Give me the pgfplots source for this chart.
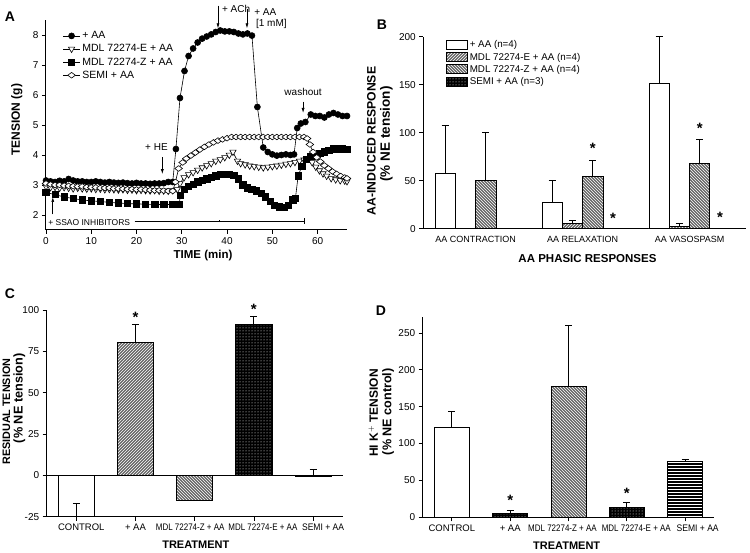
\documentclass[border=0pt]{standalone}
\usepackage{fontspec}
\setmainfont{Liberation Sans}
\usepackage{pgfplots}
\pgfplotsset{compat=1.18}
\usetikzlibrary{patterns,arrows.meta}

\pgfplotsset{
  panel/.style={
    scale only axis,
    axis lines=left,
    axis line style={-, line width=1pt},
    tick align=outside,
    major tick length=4pt,
    tick style={black, line width=0.8pt},
    /pgf/number format/assume math mode=true,
    yticklabel style={font=\fontsize{10}{11}\selectfont},
    clip=false,
  },
  errs/.style={error bars/.cd, y dir=plus, y explicit,
    error bar style={line width=1pt, black},
    error mark options={rotate=90, mark size=3.5pt, line width=1pt, black}},
  bx/.style={ybar, bar shift=0pt, draw=black, line width=0.9pt},
  boxlegend/.style={legend image code/.code={\draw[##1] (0pt,-4.5pt) rectangle (21pt,4.5pt);}},
  hatchE/.style={fill=black!60, postaction={pattern=north east lines, pattern color=white}},
  hatchZ/.style={fill=black!60, postaction={pattern=north west lines, pattern color=white}},
  dotsB/.style={fill=black, postaction={pattern=dots, pattern color=white}},
  horizB/.style={fill=black, postaction={pattern=horizontal lines, pattern color=white}},
}
\newcommand{\sig}{\fontsize{15}{15}\bfseries *}
\newcommand{\nar}[1]{\scalebox{0.84}[1]{#1}}

\begin{document}
\begin{tikzpicture}[x=1pt,y=1pt]
\useasboundingbox (0,0) rectangle (750,553);

% ---------------- A ----------------
\begin{axis}[panel, anchor=south west, at={(46pt,323pt)}, width=301pt, height=210pt,
  xmin=0, xmax=66.5, ymin=1.5, ymax=8.5,
  xtick={0,10,...,60}, ytick={2,3,...,8},
  xticklabel style={font=\fontsize{10}{11}\selectfont},
  legend style={draw=none, fill=none, at={(0.045,0.965)}, anchor=north west,
    font=\fontsize{10.5}{12}\selectfont, row sep=0.3pt, cells={anchor=west}},
  every axis plot/.append style={black, line width=0.6pt, mark options={solid, line width=0.6pt}},
]
\addplot[mark=*, mark size=3pt] coordinates {
(0,3.15) (1,3.12) (2,3.1) (3,3.14) (4,3.12) (5,3.2) (6,3.15) (7,3.12) (8,3.12) (9,3.1) (10,3.1) (11,3.12) (12,3.1) (13,3.08) (14,3.1) (15,3.08) (16,3.07) (17,3.08) (18,3.06) (19,3.05) (20,3.07) (21,3.05) (22,3.05) (23,3.04) (24,3.05) (25,3.05) (26,3.06) (27,3.1) (28,3.1) (28.7,4.2) (29.6,5.9) (30.6,6.8) (31.5,7.3) (32.5,7.55) (33.5,7.75) (34.5,7.88) (35.5,7.95) (36.5,8.02) (37.5,8.1) (38.5,8.15) (39.5,8.12) (40.5,8.12) (41.5,8.1) (42.5,8.05) (43.5,8.02) (44.5,8.05) (45.5,7.98) (46.7,5.6) (48,4.25) (49,4.1) (50,4.02) (51,3.98) (52,4.0) (53,4.02) (54,4.0) (54.8,4.02) (55.5,4.9) (56.3,5.05) (57.3,5.1) (58.5,5.35) (59.5,5.3) (60.5,5.3) (61.5,5.25) (62.5,5.35) (63.5,5.4) (64.5,5.35) (65.5,5.3) (66.5,5.3)
};
\addlegendentry{+ AA}
\addplot[mark=triangle*, mark size=3.6pt, mark options={rotate=180, fill=white}] coordinates {
(0,2.95) (1,2.92) (2,2.93) (3,2.9) (4,2.92) (5,2.9) (6,2.88) (7,2.9) (8,2.88) (9,2.87) (10,2.88) (11,2.86) (12,2.87) (13,2.85) (14,2.86) (15,2.85) (16,2.84) (17,2.85) (18,2.83) (19,2.84) (20,2.82) (21,2.83) (22,2.82) (23,2.81) (24,2.82) (25,2.8) (26,2.81) (27,2.8) (28,2.82) (29,2.85) (29.6,3.05) (30.5,3.25) (31.5,3.35) (32.5,3.42) (33.5,3.5) (34.5,3.58) (35.5,3.65) (36.5,3.72) (37.5,3.8) (38.5,3.85) (39.5,3.92) (40.5,4.0) (41.3,4.1) (42.3,3.8) (43,3.72) (44,3.68) (45,3.64) (46,3.62) (47,3.6) (48,3.58) (49,3.6) (50,3.62) (51,3.64) (52,3.67) (53,3.7) (54,3.72) (55,3.76) (56,3.8) (57,3.84) (58,3.88) (58.8,3.75) (59.6,3.6) (60.4,3.48) (61.2,3.38) (62,3.3) (63,3.22) (64,3.18) (65,3.15) (66,3.14) (66.5,3.12)
};
\addlegendentry{MDL 72274-E + AA}
\addplot[mark=square*, mark size=3.2pt] coordinates {
(0,2.75) (2,2.68) (4,2.6) (6,2.55) (8,2.5) (10,2.47) (12,2.45) (14,2.42) (16,2.4) (18,2.38) (20,2.37) (22,2.36) (24,2.35) (26,2.35) (28,2.35) (29.4,2.35) (29.7,2.65) (30.5,2.85) (31.5,2.95) (32.5,3.03) (33.5,3.1) (34.5,3.15) (35.5,3.2) (36.5,3.25) (37.5,3.3) (38.5,3.35) (39.5,3.36) (40.5,3.35) (41.5,3.32) (42.5,3.2) (43.5,3.0) (44.5,2.9) (45.5,2.85) (46.5,2.8) (47.5,2.72) (48.5,2.6) (49.5,2.45) (50.5,2.33) (51.5,2.27) (52.5,2.25) (53.5,2.33) (54.5,2.5) (55.1,2.55) (55.7,3.3) (56.5,3.62) (57.5,3.85) (58.5,3.95) (59.5,4.0) (60.5,4.05) (61.5,4.1) (62.5,4.15) (63.5,4.2) (64.5,4.2) (65.5,4.2) (66.5,4.18)
};
\addlegendentry{MDL 72274-Z + AA}
\addplot[mark=diamond*, mark size=3.8pt, mark options={rotate=90, fill=white}] coordinates {
(0,3.05) (1,3.02) (2,3.0) (3,3.0) (4,2.98) (5,2.97) (6,2.96) (7,2.95) (8,2.95) (9,2.93) (10,2.92) (11,2.92) (12,2.9) (13,2.9) (14,2.9) (15,2.88) (16,2.88) (17,2.87) (18,2.86) (19,2.86) (20,2.85) (21,2.85) (22,2.84) (23,2.83) (24,2.82) (25,2.82) (26,2.81) (27,2.8) (28,2.8) (28.6,3.1) (29.3,3.55) (30.2,3.75) (31,3.88) (32,3.98) (33,4.08) (34,4.18) (35,4.27) (36,4.35) (37,4.42) (38,4.48) (39,4.52) (40,4.56) (41,4.6) (42,4.6) (43,4.6) (44,4.6) (45,4.6) (46,4.6) (47,4.6) (48,4.6) (49,4.6) (50,4.6) (51,4.6) (52,4.6) (53,4.6) (54,4.6) (55,4.6) (56,4.6) (57,4.6) (57.7,4.55) (58.3,4.35) (59,4.1) (59.8,3.92) (60.6,3.78) (61.5,3.65) (62.4,3.55) (63.3,3.45) (64.2,3.37) (65.1,3.3) (66,3.25) (66.5,3.22)
};
\addlegendentry{SEMI + AA}
% annotations
\begin{scope}[font=\fontsize{10}{11}\selectfont, >={Latex[length=5pt,width=3pt]}, line width=0.7pt]
\node at (axis cs:24.4,4.25) {+ HE};
\draw[->] (axis cs:25.7,3.92) -- (axis cs:25.7,3.36);
\draw[->] (axis cs:38,8.98) -- (axis cs:38,8.22);
\node[anchor=west] at (axis cs:38.1,8.88) {+ ACh};
\draw[->] (axis cs:44.4,8.85) -- (axis cs:44.4,8.22);
\node[anchor=west] at (axis cs:45.2,8.78) {+ AA};
\node[anchor=west] at (axis cs:45.6,8.37) {[1 mM]};
\node at (axis cs:56.8,6.11) {washout};
\draw[->] (axis cs:56.8,5.78) -- (axis cs:56.8,5.4);
\draw[->] (axis cs:1.5,2.02) -- (axis cs:1.5,2.6);
\node[anchor=west, font=\fontsize{8.5}{10}\selectfont] at (axis cs:-0.3,1.76) {+ SSAO INHIBITORS};
\draw (axis cs:19.6,1.8) -- (axis cs:57,1.8);
\draw (axis cs:38.2,1.76) -- (axis cs:38.2,1.84);
\draw (axis cs:57,1.7) -- (axis cs:57,1.9);
\end{scope}
\end{axis}

% ---------------- B ----------------
\begin{axis}[panel, anchor=south west, at={(423.3pt,324.3pt)}, width=323pt, height=192pt,
  xmin=-0.49, xmax=2.53, ymin=0, ymax=200,
  ytick={0,50,...,200},
  xtick={0,1,2}, xticklabels={AA CONTRACTION, AA RELAXATION, AA VASOSPASM},
  xticklabel style={font=\fontsize{9}{10}\selectfont},
  xtick style={draw=none},
  ybar=0pt, bar width=0.19,
  legend style={draw=none, fill=none, at={(0.06,1.0)}, anchor=north west,
    font=\fontsize{9.8}{11}\selectfont, row sep=-0.5pt, cells={anchor=west}},
]
\addplot[draw=black, line width=0.9pt, fill=white, boxlegend, errs] coordinates {
 (0,57.5) +- (0,50) (1,27) +- (0,23) (2,151) +- (0,49.4)};
\addlegendentry{+ AA (n=4)}
\addplot[draw=black, line width=0.9pt, hatchE, boxlegend, errs] coordinates {
 (1,5) +- (0,3.3) (2,2) +- (0,2.9)};
\addlegendentry{MDL 72274-E + AA (n=4)}
\addplot[draw=black, line width=0.9pt, hatchZ, boxlegend, errs] coordinates {
 (0,50.5) +- (0,50) (1,54) +- (0,17.5) (2,68) +- (0,25)};
\addlegendentry{MDL 72274-Z + AA (n=4)}
\addplot[draw=black, line width=0.9pt, dotsB, boxlegend] coordinates {
 (1,0) (2,0)};
\addlegendentry{SEMI + AA (n=3)}
\node at (axis cs:1.095,84) {\sig};
\node at (axis cs:1.285,11) {\sig};
\node at (axis cs:2.095,105) {\sig};
\node at (axis cs:2.285,12) {\sig};
\end{axis}

% ---------------- C ----------------
\begin{axis}[panel, anchor=south west, at={(46.7pt,36.3pt)}, width=296pt, height=206.7pt,
  xmin=-0.5, xmax=4.5, ymin=-25, ymax=100,
  ytick={-25,0,25,50,75,100}, yticklabels={-25,0,25,50,75,100},
  xtick={0,...,4},
  xticklabels={\hspace*{10pt}CONTROL, + AA, \nar{MDL 72274-Z + AA}\hspace*{9pt},
    \hspace*{18pt}\nar{MDL 72274-E + AA}, \hspace*{20pt}\scalebox{0.9}[1]{SEMI + AA}},
  xticklabel style={font=\fontsize{9.5}{10}\selectfont},
  bar width=0.61,
]
\draw[line width=1pt] (axis cs:-0.5,0) -- (axis cs:4.5,0);
\addplot[bx, fill=white, errs] coordinates {(0,-24.8) +- (0,8)};
\addplot[bx, hatchE, errs] coordinates {(1,80.4) +- (0,11)};
\addplot[bx, hatchZ] coordinates {(2,-15.2)};
\addplot[bx, dotsB, errs] coordinates {(3,91.3) +- (0,5)};
\addplot[bx, fill=white, errs] coordinates {(4,-0.8) +- (0,4.2)};
\node at (axis cs:1,95.5) {\sig};
\node at (axis cs:3,100.5) {\sig};
\end{axis}

% ---------------- D ----------------
\begin{axis}[panel, anchor=south west, at={(422.7pt,35.7pt)}, width=291.6pt, height=200.6pt,
  xmin=-0.5, xmax=4.5, ymin=0, ymax=272,
  ytick={0,50,...,250},
  xtick={0,...,4},
  xticklabels={CONTROL, + AA, \nar{MDL 72274-Z + AA}\hspace*{12pt},
    \hspace*{19pt}\nar{MDL 72274-E + AA}, \hspace*{25pt}\scalebox{0.9}[1]{SEMI + AA}},
  xticklabel style={font=\fontsize{9.5}{10}\selectfont},
  bar width=0.6,
]
\addplot[bx, fill=white, errs] coordinates {(0,122) +- (0,21)};
\addplot[bx, dotsB, errs] coordinates {(1,5) +- (0,3.6)};
\addplot[bx, hatchZ, errs] coordinates {(2,177.5) +- (0,83)};
\addplot[bx, dotsB, errs] coordinates {(3,13.6) +- (0,6.3)};
\addplot[bx, horizB, errs] coordinates {(4,75.2) +- (0,2.7)};
\node at (axis cs:1,23) {\sig};
\node at (axis cs:3,33) {\sig};
\end{axis}

% ---------------- labels ----------------
\node[font=\fontsize{14}{14}\bfseries] at (10,536.3) {A};
\node[font=\fontsize{14}{14}\bfseries] at (382,528) {B};
\node[font=\fontsize{14}{14}\bfseries] at (10,259) {C};
\node[font=\fontsize{14}{14}\bfseries] at (381,242) {D};
\node[rotate=90, font=\fontsize{12}{13}\bfseries] at (16.7,433) {TENSION (g)};
\node[font=\fontsize{11.5}{13}\bfseries] at (203,297) {TIME (min)};
\node[rotate=90, font=\fontsize{12.2}{13}\bfseries] at (371.5,412) {AA-INDUCED RESPONSE};
\node[rotate=90, font=\fontsize{13.5}{14}\bfseries] at (386.5,419) {(\% NE tension)};
\node[font=\fontsize{11.5}{12}\bfseries] at (587.5,294) {AA PHASIC RESPONSES};
\node[rotate=90, font=\fontsize{10.8}{12}\bfseries] at (6.5,141.3) {RESIDUAL TENSION};
\node[rotate=90, font=\fontsize{12.7}{13}\bfseries] at (19.3,154.7) {(\% NE tension)};
\node[font=\fontsize{11}{12}\bfseries] at (195.8,8) {TREATMENT};
\node[rotate=90, font=\fontsize{12}{13}\bfseries] at (373.3,140) {HI K$^{+}$ TENSION};
\node[rotate=90, font=\fontsize{12.6}{13}\bfseries] at (388,141.3) {(\% NE control)};
\node[font=\fontsize{11}{12}\bfseries] at (566.7,7.3) {TREATMENT};
\end{tikzpicture}
\end{document}
